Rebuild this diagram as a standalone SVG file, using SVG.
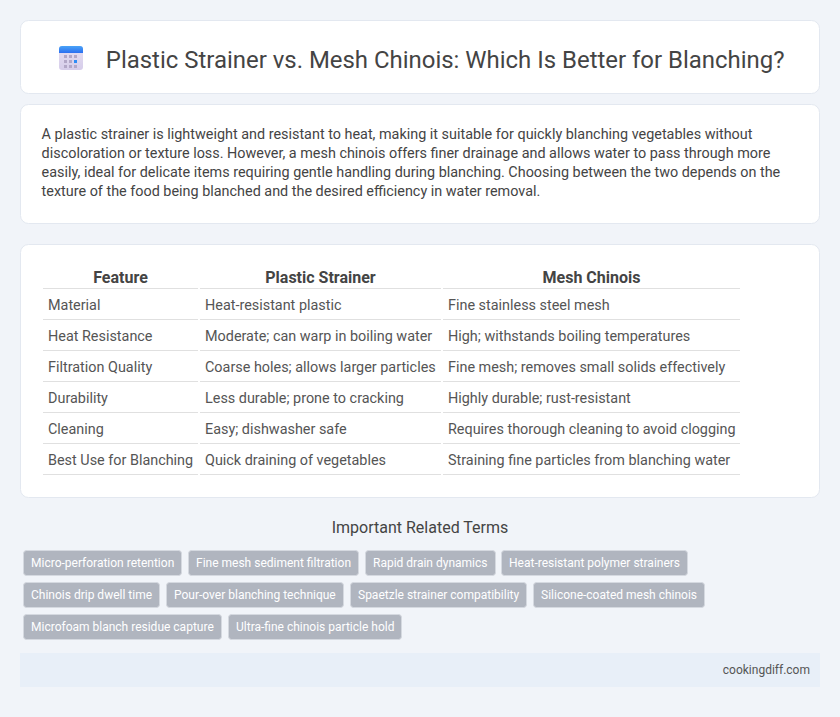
<svg xmlns="http://www.w3.org/2000/svg" width="840" height="717" viewBox="0 0 840 717">
<defs><linearGradient id="ic" x1="0" y1="0" x2="0" y2="1"><stop offset="0" stop-color="#e6dff2"/><stop offset="1" stop-color="#d6cdea"/></linearGradient>
<linearGradient id="ib" x1="0" y1="0" x2="0" y2="1"><stop offset="0" stop-color="#4aa3f7"/><stop offset="1" stop-color="#2b6ff0"/></linearGradient></defs>
<style>
text{font-family:Roboto,"Liberation Sans",sans-serif}
.card{fill:#fff;stroke:#e3e8f0;stroke-width:1}
.p{font-size:14.4px;fill:#444}
.h{font-size:16px;font-weight:700;fill:#444;text-anchor:middle}
.c{font-size:14.4px;fill:#555}
.l{stroke:#e0e0e0;stroke-width:1;fill:none}
.tag{fill:#b0b5bf;stroke:#d5d9e0;stroke-width:1}
.t{font-size:12px;fill:#fff}
</style>
<rect width="840" height="717" fill="#f1f4f9"/>
<g id="header"><rect class="card" x="20.5" y="20.5" width="799" height="73" rx="8"/>
<g id="icon"><rect x="59" y="46" width="24" height="24" rx="3" fill="url(#ic)"/><path d="M59 53v-4a3 3 0 0 1 3-3h18a3 3 0 0 1 3 3v4z" fill="url(#ib)"/>
<g fill="#b3a8c8"><rect x="64" y="55" width="3" height="3"/><rect x="69" y="55" width="3" height="3"/><rect x="74" y="55" width="3" height="3"/><rect x="64" y="60" width="3" height="3"/><rect x="69" y="60" width="3" height="3"/><rect x="64" y="65" width="3" height="3"/><rect x="69" y="65" width="3" height="3"/><rect x="74" y="65" width="3" height="3"/></g><rect x="74" y="60" width="3" height="3" fill="#2f8cf5"/></g>
<text x="105.800" y="68" font-size="23.950" fill="#444">Plastic Strainer vs. Mesh Chinois: Which Is Better for Blanching?</text></g>
<g id="intro"><rect class="card" x="20.5" y="104.5" width="799" height="119" rx="8"/>
<text class="p" x="41.600" y="139">A plastic strainer is lightweight and resistant to heat, making it suitable for quickly blanching vegetables without</text>
<text class="p" x="41.600" y="158">discoloration or texture loss. However, a mesh chinois offers finer drainage and allows water to pass through more</text>
<text class="p" x="41.600" y="177">easily, ideal for delicate items requiring gentle handling during blanching. Choosing between the two depends on the</text>
<text class="p" x="41.600" y="196">texture of the food being blanched and the desired efficiency in water removal.</text></g>
<g id="table"><rect class="card" x="20.5" y="244.500" width="799" height="253" rx="8"/>
<text class="h" x="120.500" y="283">Feature</text><text class="h" x="320.500" y="283">Plastic Strainer</text><text class="h" x="591.500" y="283">Mesh Chinois</text>
<path class="l" d="M43 288.500h155M200 288.500h241M443 288.500h297M43 319.500h155M200 319.500h241M443 319.500h297M43 350.500h155M200 350.500h241M443 350.500h297M43 381.500h155M200 381.500h241M443 381.500h297M43 412.500h155M200 412.500h241M443 412.500h297M43 443.500h155M200 443.500h241M443 443.500h297M43 474.500h155M200 474.500h241M443 474.500h297"/>
<text class="c" x="48" y="310">Material</text><text class="c" x="205" y="310">Heat-resistant plastic</text><text class="c" x="448" y="310">Fine stainless steel mesh</text>
<text class="c" x="48" y="341">Heat Resistance</text><text class="c" x="205" y="341">Moderate; can warp in boiling water</text><text class="c" x="448" y="341">High; withstands boiling temperatures</text>
<text class="c" x="48" y="372">Filtration Quality</text><text class="c" x="205" y="372">Coarse holes; allows larger particles</text><text class="c" x="448" y="372">Fine mesh; removes small solids effectively</text>
<text class="c" x="48" y="403">Durability</text><text class="c" x="205" y="403">Less durable; prone to cracking</text><text class="c" x="448" y="403">Highly durable; rust-resistant</text>
<text class="c" x="48" y="434">Cleaning</text><text class="c" x="205" y="434">Easy; dishwasher safe</text><text class="c" x="448" y="434">Requires thorough cleaning to avoid clogging</text>
<text class="c" x="48" y="465">Best Use for Blanching</text><text class="c" x="205" y="465">Quick draining of vegetables</text><text class="c" x="448" y="465">Straining fine particles from blanching water</text></g>
<g id="terms"><text x="420" y="533" font-size="16" fill="#444" text-anchor="middle">Important Related Terms</text>
<g id="tag1"><rect class="tag" x="23.500" y="550.500" width="158" height="25" rx="3"/><text class="t" x="31" y="567">Micro-perforation retention</text></g>
<g id="tag2"><rect class="tag" x="188.500" y="550.500" width="170" height="25" rx="3"/><text class="t" x="196" y="567">Fine mesh sediment filtration</text></g>
<g id="tag3"><rect class="tag" x="365.500" y="550.500" width="130" height="25" rx="3"/><text class="t" x="373" y="567">Rapid drain dynamics</text></g>
<g id="tag4"><rect class="tag" x="501.500" y="550.500" width="186" height="25" rx="3"/><text class="t" x="509" y="567">Heat-resistant polymer strainers</text></g>
<g id="tag5"><rect class="tag" x="23.500" y="582.500" width="136" height="25" rx="3"/><text class="t" x="31" y="599">Chinois drip dwell time</text></g>
<g id="tag6"><rect class="tag" x="166.500" y="582.500" width="177" height="25" rx="3"/><text class="t" x="174" y="599">Pour-over blanching technique</text></g>
<g id="tag7"><rect class="tag" x="350.500" y="582.500" width="176" height="25" rx="3"/><text class="t" x="358" y="599">Spaetzle strainer compatibility</text></g>
<g id="tag8"><rect class="tag" x="533.500" y="582.500" width="171" height="25" rx="3"/><text class="t" x="541" y="599">Silicone-coated mesh chinois</text></g>
<g id="tag9"><rect class="tag" x="23.500" y="614.500" width="198" height="25" rx="3"/><text class="t" x="31" y="631">Microfoam blanch residue capture</text></g>
<g id="tag10"><rect class="tag" x="228.500" y="614.500" width="173" height="25" rx="3"/><text class="t" x="236" y="631">Ultra-fine chinois particle hold</text></g></g>
<g id="footer"><rect x="20" y="653" width="800" height="34" fill="#e8eff8"/><text x="810" y="674" font-size="12" fill="#555" text-anchor="end">cookingdiff.com</text></g>
</svg>
